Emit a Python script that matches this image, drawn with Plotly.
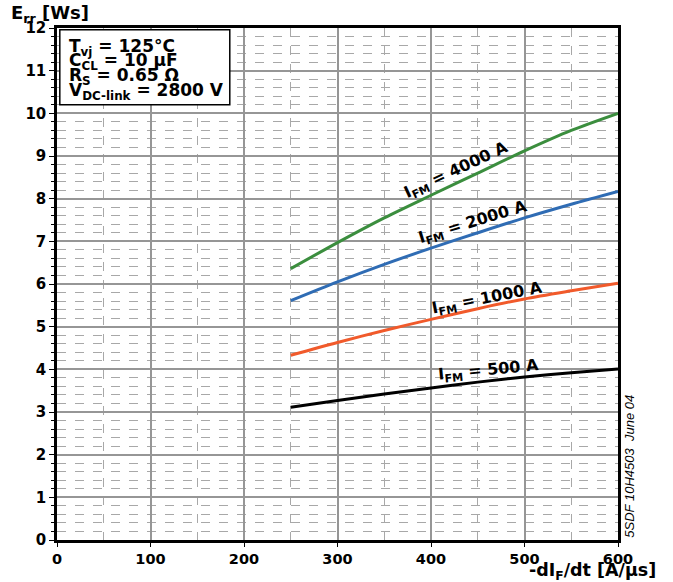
import plotly.graph_objects as go

# Reverse-recovery energy vs. -diF/dt for several forward currents
didt = [250, 300, 350, 400, 450, 500, 550, 600]
err_4000 = [6.36, 6.97, 7.55, 8.08, 8.60, 9.12, 9.60, 10.00]
err_2000 = [5.61, 6.05, 6.46, 6.84, 7.20, 7.55, 7.87, 8.17]
err_1000 = [4.33, 4.63, 4.91, 5.17, 5.42, 5.65, 5.84, 6.02]
err_500 = [3.11, 3.27, 3.42, 3.56, 3.70, 3.82, 3.92, 4.01]

curve_labels = ["I<sub>FM</sub> = 4000 A", "I<sub>FM</sub> = 2000 A",
                "I<sub>FM</sub> = 1000 A", "I<sub>FM</sub> = 500 A"]
condition_lines = ["T<sub>vj</sub> = 125°C", "C<sub>CL</sub> = 10 µF",
                   "R<sub>S</sub> = 0.65 Ω", "V<sub>DC-link</sub> = 2800 V"]

series = [
    (curve_labels[0], err_4000, "#3b8e3e", 427, 8.67, -25),
    (curve_labels[1], err_2000, "#2f6cb4", 445, 7.43, -17),
    (curve_labels[2], err_1000, "#f15a2b", 460, 5.67, -11),
    (curve_labels[3], err_500, "#000000", 461, 3.97, -5.5),
]

BOLD = "DejaVu Sans, sans-serif"
ITALIC = "Liberation Sans, Arial, sans-serif"

fig = go.Figure()
for name, ys, color, lx, ly, ang in series:
    fig.add_trace(go.Scatter(x=didt, y=ys, mode="lines",
                             line=dict(color=color, width=3, shape="spline", smoothing=0.8),
                             showlegend=False, hoverinfo="skip"))
    fig.add_annotation(x=lx, y=ly, text=name, showarrow=False, textangle=ang,
                       font=dict(family=BOLD, size=16, color="black", weight="bold"))

grid_major = "#969696"
grid_minor = "#a8a8a8"

fig.update_xaxes(range=[0, 600], dtick=100, tick0=0, showgrid=True, gridcolor=grid_major, gridwidth=2,
                 showline=True, linecolor="black", linewidth=2.5, mirror=True,
                 ticks="outside", ticklen=4, tickcolor="black",
                 tickfont=dict(family=BOLD, size=14.5, color="black", weight="bold"),
                 minor=dict(dtick=50, showgrid=True, gridcolor=grid_minor, griddash="dash", gridwidth=1),
                 zeroline=False)
fig.update_yaxes(range=[0, 12], dtick=1, tick0=0, showgrid=True, gridcolor=grid_major, gridwidth=2,
                 showline=True, linecolor="black", linewidth=2.5, mirror=True,
                 ticks="outside", ticklen=5, tickcolor="black",
                 tickfont=dict(family=BOLD, size=15, color="black", weight="bold"),
                 minor=dict(dtick=0.2, showgrid=True, gridcolor=grid_minor, griddash="dash", gridwidth=1,
                            ticks="outside", ticklen=3, tickcolor="black"),
                 zeroline=False)

# Axis titles
fig.add_annotation(xref="paper", yref="paper", x=-0.085, y=1.0265, xanchor="left", yanchor="middle",
                   text="E<sub>rr</sub> [Ws]", showarrow=False,
                   font=dict(family=BOLD, size=18, color="black", weight="bold"))
fig.add_annotation(xref="paper", yref="paper", x=1.071, y=-0.0345, xanchor="right", yanchor="top",
                   text="-dI<sub>F</sub>/dt [A/µs]", showarrow=False,
                   font=dict(family=BOLD, size=17.5, color="black", weight="bold"))

# Test-condition box
fig.add_shape(type="rect", xref="paper", yref="paper", x0=0.005, x1=0.308, y0=0.850, y1=0.9965,
              line=dict(color="black", width=1.5), fillcolor="white", layer="above")
for i, line in enumerate(condition_lines):
    py = 47 + 14.7 * i
    fig.add_annotation(xref="paper", yref="paper", x=0.018, y=(540 - py) / 512,
                       xanchor="left", yanchor="middle", text=line, showarrow=False,
                       font=dict(family=BOLD, size=17, color="black", weight="bold"))

# Document reference
fig.add_annotation(xref="paper", yref="paper", x=1.003, y=0.0, xanchor="left", yanchor="bottom",
                   text="<i>5SDF 10H4503  June 04</i>", textangle=-90, showarrow=False,
                   font=dict(family=ITALIC, size=13, color="black"))

fig.update_layout(width=673, height=582, margin=dict(l=57, r=55, t=28, b=42),
                  plot_bgcolor="white", paper_bgcolor="white")

fig.write_html("out.html")
